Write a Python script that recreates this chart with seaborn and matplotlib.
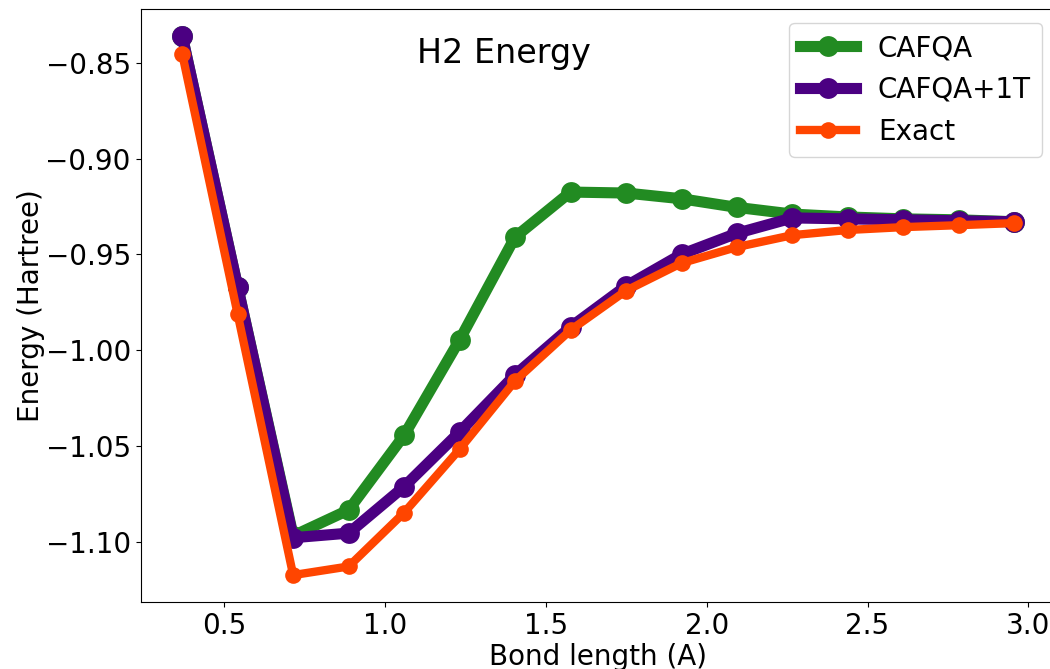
import matplotlib
matplotlib.use("Agg")
import matplotlib.pyplot as plt
import seaborn as sns
import pandas as pd

bond_length = [0.369, 0.5415, 0.714, 0.8865, 1.059, 1.2315, 1.404, 1.5765,
               1.749, 1.9215, 2.094, 2.2665, 2.439, 2.6115, 2.784, 2.9565]
cafqa = [-0.836, -0.967, -1.097, -1.0835, -1.0445, -0.9947, -0.941, -0.9175,
         -0.918, -0.921, -0.9255, -0.929, -0.9305, -0.9315, -0.932, -0.933]
cafqa_1t = [-0.836, -0.967, -1.098, -1.0956, -1.0713, -1.0428, -1.013, -0.988,
            -0.9666, -0.950, -0.939, -0.931, -0.9315, -0.932, -0.9325, -0.933]
exact = [-0.8453, -0.9813, -1.1175, -1.113, -1.0849, -1.0518, -1.0161, -0.9896,
         -0.969, -0.9546, -0.9462, -0.940, -0.9373, -0.9358, -0.9348, -0.9337]

series_names = ["CAFQA", "CAFQA+1T", "Exact"]
series_values = [cafqa, cafqa_1t, exact]
colors = ["forestgreen", "indigo", "orangered"]
linewidths = [8, 8, 6]
markersizes = [15, 15, 12]

fig = plt.figure(figsize=(10.5, 6.69), dpi=100)
ax = fig.add_axes([0.1339, 0.1001, 0.8718, 0.8864])

for name, vals, c, lw, ms in zip(series_names, series_values, colors, linewidths, markersizes):
    df = pd.DataFrame({"x": bond_length, "y": vals})
    sns.lineplot(data=df, x="x", y="y", ax=ax, color=c, linewidth=lw,
                 marker="o", markersize=ms, markeredgewidth=0, label=name)

ax.text(1.1, -0.85, "H2 Energy", fontsize=24)
ax.set_xlabel("Bond length (A)", fontsize=20, labelpad=2)
ax.set_ylabel("Energy (Hartree)", fontsize=20, labelpad=0.5)
ax.set_xticks([0.5, 1.0, 1.5, 2.0, 2.5, 3.0])
ax.set_yticks([-0.85, -0.90, -0.95, -1.00, -1.05, -1.10])
ax.tick_params(labelsize=20)
ax.legend(loc="upper right", fontsize=20)

fig.savefig("out.png", dpi=100)
